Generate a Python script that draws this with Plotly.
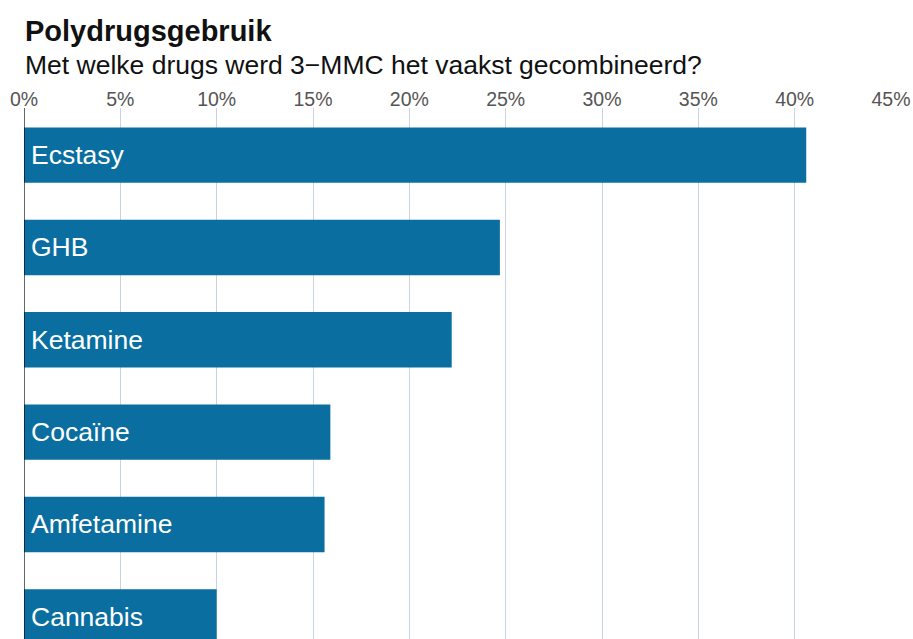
import plotly.graph_objects as go

# Share of 3-MMC users combining with each drug (%)
drugs = ["Ecstasy", "GHB", "Ketamine", "Cocaïne", "Amfetamine", "Cannabis"]
shares = [40.6, 24.7, 22.2, 15.9, 15.6, 10.0]
tick_values = [0, 5, 10, 15, 20, 25, 30, 35, 40, 45]
tick_labels = [f"{v}%" for v in tick_values]

title_text = "Polydrugsgebruik"
subtitle_text = "Met welke drugs werd 3\u2212MMC het vaakst gecombineerd?"

FONT = "Liberation Sans, Arial, Helvetica, sans-serif"
BAR_COLOR = "#0a6ea0"
GRID_COLOR = "#c9d4dc"

fig = go.Figure(
    go.Bar(
        x=shares,
        y=drugs,
        orientation="h",
        width=0.6,
        marker=dict(color=BAR_COLOR, line=dict(width=0)),
        hoverinfo="skip",
    )
)

# Drug names written inside each bar, near its base
for name in drugs:
    fig.add_annotation(
        x=0, y=name, xref="x", yref="y",
        text=name, showarrow=False,
        xanchor="left", yanchor="middle", xshift=5,
        font=dict(family=FONT, size=26.5, color="white"),
    )

# Title and subtitle above the top axis
fig.add_annotation(
    x=0, y=1, xref="paper", yref="paper",
    text=f"<b>{title_text}</b>", showarrow=False,
    xanchor="left", yanchor="middle", xshift=-1, yshift=77,
    font=dict(family=FONT, size=29, color="#111111"),
)
fig.add_annotation(
    x=0, y=1, xref="paper", yref="paper",
    text=subtitle_text, showarrow=False,
    xanchor="left", yanchor="middle", xshift=-1, yshift=43,
    font=dict(family=FONT, size=26.5, color="#111111"),
)

# Baseline at 0%, drawn over the bars
fig.add_shape(
    type="line", xref="x", yref="paper",
    x0=0, x1=0, y0=0, y1=1,
    line=dict(color="black", width=1.2), layer="above",
)

fig.update_layout(
    width=913, height=639,
    margin=dict(l=24, r=22, t=108, b=0, pad=0),
    paper_bgcolor="white", plot_bgcolor="white",
    showlegend=False,
    xaxis=dict(
        side="top", range=[0, 45],
        tickvals=tick_values, ticktext=tick_labels,
        showgrid=True, gridcolor=GRID_COLOR, gridwidth=1,
        zeroline=False, showline=False, ticks="",
        ticklabelstandoff=-3,
        tickfont=dict(family=FONT, size=19.5, color="#555555"),
        fixedrange=True,
    ),
    yaxis=dict(
        type="category", categoryorder="array", categoryarray=drugs,
        range=[5.24, -0.51],
        showticklabels=False, showgrid=False, zeroline=False,
        showline=False, ticks="", fixedrange=True,
    ),
    bargap=0.4,
)

fig.write_html("out.html")
